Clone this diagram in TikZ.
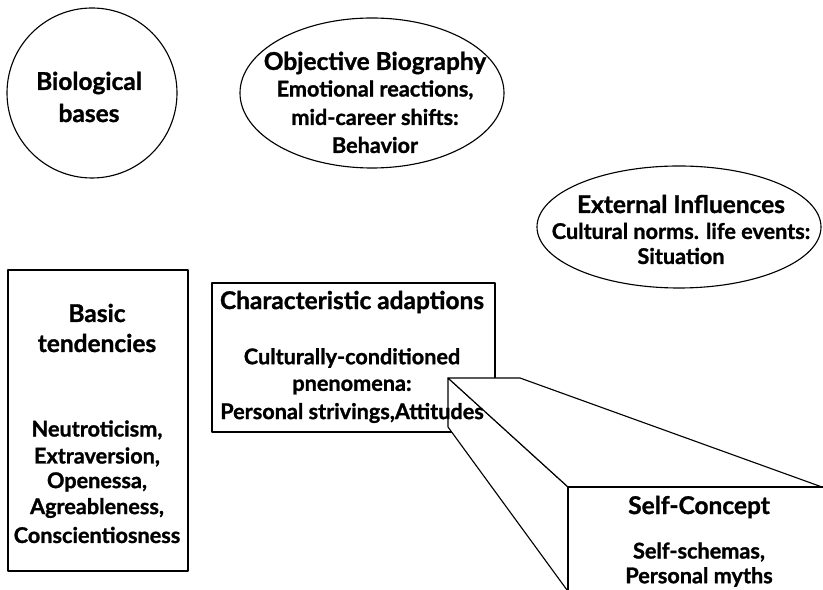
\documentclass[tikz,border=0pt]{standalone}
\usepackage{fontspec}
\setmainfont{Lato}[BoldFeatures={FakeBold=1.2}]
\usepackage{tikz}
\tikzstyle{every node}=[font=\bfseries]
\tikzstyle{every path}=[line width=0.8pt,line cap=round,line join=round]
\tikzstyle{headtxt}=[font=\fontsize{17.4}{20}\selectfont\bfseries]
\tikzstyle{bodytxt}=[font=\fontsize{15.4}{18}\selectfont\bfseries]

\begin{document}
\begin{tikzpicture}
\useasboundingbox (0,0) rectangle (20.575,14.75);

% Biological bases
\draw (2.3,12.425) circle (2.125);
\node[headtxt] (bio1) at (2.225,12.675) {Biological};
\node[headtxt] (bio2) at (2.225,11.925) {bases};

% Objective biography
\draw (9.3,12.425) ellipse (3.3 and 1.875);
\node[headtxt] (obj1) at (9.375,13.175) {Objective Biography};
\node[bodytxt] (obj2) at (9.375,12.5) {Emotional reactions,};
\node[bodytxt] (obj3) at (9.375,11.825) {mid-career shifts:};
\node[bodytxt] (obj4) at (9.375,11.125) {Behavior};

% External influences
\draw (16.975,9.075) ellipse (3.55 and 1.525);
\node[headtxt] (ext1) at (17.025,9.65) {External Influences};
\node[bodytxt] (ext2) at (17.025,8.975) {Cultural norms. life events:};
\node[bodytxt] (ext3) at (17.025,8.35) {Situation};

% Basic tendencies
\draw (0.2,8) rectangle (4.7,0.475);
\node[headtxt] (bas1) at (2.425,6.925) {Basic};
\node[headtxt] (bas2) at (2.425,6.175) {tendencies};
\node[bodytxt] (bas3) at (2.425,4) {Neutroticism,};
\node[bodytxt] (bas4) at (2.425,3.325) {Extraversion,};
\node[bodytxt] (bas5) at (2.425,2.7) {Openessa,};
\node[bodytxt] (bas6) at (2.425,2.05) {Agreableness,};
\node[bodytxt] (bas7) at (2.425,1.375) {Conscientiosness};

% Characteristic adaptions (frame first, block over it, text last)
\draw (5.3,7.675) rectangle (12.375,3.95);

% Self-concept block
\draw[fill=white] (11.2,5.3) -- (11.2,4.075) -- (14.54,-0.5) -- (14.2,2.575) -- cycle;
\draw[fill=white] (11.2,5.3) -- (13,5.3) -- (20.55,2.575) -- (14.2,2.575) -- cycle;
\draw[fill=white,line width=1.2pt] (14.2,-0.5) -- (14.2,2.575) -- (21,2.575);
\node[headtxt] (self1) at (17.475,2.075) {Self-Concept};
\node[bodytxt] (self2) at (17.475,0.95) {Self-schemas,};
\node[bodytxt] (self3) at (17.475,0.325) {Personal myths};

\node[headtxt] (ada1) at (8.8,7.2) {Characteristic adaptions};
\node[bodytxt] (ada2) at (8.8,5.8) {Culturally-conditioned};
\node[bodytxt] (ada3) at (8.8,5.075) {pnenomena:};
\node[bodytxt] (ada4) at (8.8,4.425) {Personal strivings,Attitudes};

\end{tikzpicture}
\end{document}
